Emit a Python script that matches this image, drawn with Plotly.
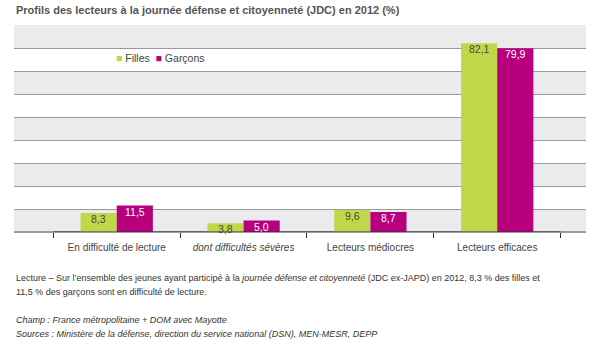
import plotly.graph_objects as go

categories = ["En difficulté de lecture", "<i>dont difficultés sévères</i>",
              "Lecteurs médiocres", "Lecteurs efficaces"]
filles = [8.3, 3.8, 9.6, 82.1]
garcons = [11.5, 5.0, 8.7, 79.9]
y_ticks = [0, 10, 20, 30, 40, 50, 60, 70, 80, 90]
series_names = ["Filles", "Garçons"]

title_text = "Profils des lecteurs à la journée défense et citoyenneté (JDC) en 2012 (%)"
note_lines = [
    "Lecture – Sur l’ensemble des jeunes ayant participé à la <i>journée défense et citoyenneté</i> (JDC ex-JAPD) en 2012, 8,3 % des filles et",
    "11,5 % des garçons sont en difficulté de lecture.",
    "<i>Champ : France métropolitaine + DOM avec Mayotte</i>",
    "<i>Sources : Ministère de la défense, direction du service national (DSN), MEN-MESR, DEPP</i>",
]

FONT = "Liberation Sans, Arial, sans-serif"
GREEN = "#BFD84A"
MAGENTA = "#B8007F"
LABEL_COLORS = ["#4a4a3a", "white"]

W, H = 597, 348
L, R, T, B = 14, 11, 25, 116
ph = H - T - B
pw = W - L - R
X_RANGE = [-0.81, 3.70]
BARGAP = 0.43
cat_px = pw / (X_RANGE[1] - X_RANGE[0])
half_bar = cat_px * (1 - BARGAP) / 4  # centre offset of each bar in a pair

fig = go.Figure()
for name, vals, col in zip(series_names, [filles, garcons], [GREEN, MAGENTA]):
    fig.add_trace(go.Bar(x=categories, y=vals, name=name,
                         marker=dict(color=col, line=dict(width=0))))

shapes = []
for i in range(0, len(y_ticks) - 1, 2):
    shapes.append(dict(type="rect", xref="paper", yref="y", x0=0, x1=1,
                       y0=y_ticks[i], y1=y_ticks[i + 1], fillcolor="#EBEBED",
                       line=dict(width=0), layer="below"))
# dark baseline between outer category boundaries
shapes.append(dict(type="line", xref="x", yref="y", x0=-0.5, x1=len(categories) - 0.5,
                   y0=0, y1=0, line=dict(color="#333333", width=1), layer="above"))

annotations = [dict(text="<b>" + title_text + "</b>", xref="paper", yref="paper",
                    x=0, y=(ph + T - 10) / ph, xanchor="left", yanchor="middle",
                    showarrow=False, font=dict(size=11, color="#555555", family=FONT))]

# value labels at the top inside each bar
for k, vals in enumerate([filles, garcons]):
    sign = -1 if k == 0 else 1
    for cat, v in zip(categories, vals):
        annotations.append(dict(text=f"{v:.1f}".replace(".", ","), x=cat, y=v,
                                xref="x", yref="y", xanchor="center", yanchor="top",
                                xshift=sign * half_bar, yshift=2, showarrow=False,
                                font=dict(size=10.5, color=LABEL_COLORS[k], family=FONT)))

# legend drawn as text with coloured squares
legend_text = (f"<span style='color:{GREEN}'>■</span> {series_names[0]}  "
               f"<span style='color:{MAGENTA}'>■</span> {series_names[1]}")
annotations.append(dict(text=legend_text, xref="paper", yref="paper",
                        x=(114 - L) / pw, y=(T + ph - 58) / ph,
                        xanchor="left", yanchor="middle", showarrow=False,
                        font=dict(size=10.5, color="#444444", family=FONT)))
note_px = [278, 292, 320, 334]
for line, py in zip(note_lines, note_px):
    annotations.append(dict(text=line, xref="paper", yref="paper", x=0,
                            y=(T + ph - py) / ph, xanchor="left", yanchor="middle",
                            showarrow=False, font=dict(size=9, color="#333333", family=FONT)))

fig.update_layout(
    width=W, height=H, margin=dict(l=L, r=R, t=T, b=B, pad=0),
    paper_bgcolor="white", plot_bgcolor="white",
    barmode="group", bargap=BARGAP, bargroupgap=0,
    separators=", ",
    showlegend=False,
    xaxis=dict(range=X_RANGE, tickson="boundaries", ticks="outside", ticklen=5,
               tickcolor="#333333", showgrid=False, showline=False, zeroline=False,
               ticklabelstandoff=8,
               tickfont=dict(size=10, color="#444444", family=FONT)),
    yaxis=dict(range=[0, 90], tickvals=y_ticks, showticklabels=False, showgrid=True,
               gridcolor="#9a9a9a", gridwidth=1, zeroline=True, zerolinecolor="#9a9a9a",
               showline=False, fixedrange=True),
    shapes=shapes, annotations=annotations,
)

fig.write_html("out.html")
